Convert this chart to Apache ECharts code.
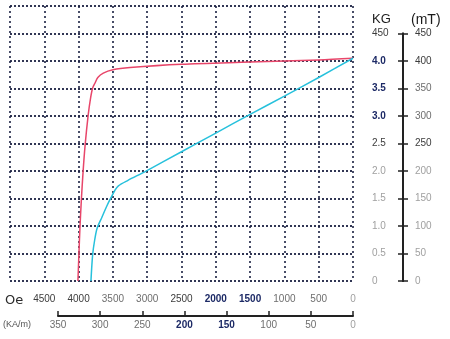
<!DOCTYPE html>
<html>
<head>
<meta charset="utf-8">
<script src="https://cdn.jsdelivr.net/npm/echarts@6/dist/echarts.min.js"></script>
<style>
  html, body { margin: 0; padding: 0; background: #fff; }
  #chart { width: 450px; height: 339px; }
</style>
</head>
<body>
<div id="chart"></div>
<script>
// Demagnetization curves of a magnet: field H (Oe, reversed) against induction (mT).

// Tick values of the three scales
const oeTicks  = [0, 500, 1000, 1500, 2000, 2500, 3000, 3500, 4000, 4500];
const kamTicks = [0, 50, 100, 150, 200, 250, 300, 350];
const mtTicks  = [0, 50, 100, 150, 200, 250, 300, 350, 400, 450];
const kgLabels = ['0', '0.5', '1.0', '1.5', '2.0', '2.5', '3.0', '3.5', '4.0', '450'];

// Upper (red) curve: H in Oe, induction in mT
const redH = [0, 500, 1500, 2500, 3250, 3500, 3640, 3720, 3760, 3795, 3825, 3860, 3905, 3935, 3960, 3980, 3995, 4010];
const redB = [405, 402, 398, 394, 388, 384, 378, 370, 360, 351, 333, 302, 247, 198, 147, 98, 50, 0];

// Lower (cyan) curve: H in Oe, induction in mT
const cyanH = [0, 500, 1000, 1500, 2000, 2500, 3030, 3280, 3420, 3470, 3530, 3590, 3660, 3730, 3765, 3795, 3820];
const cyanB = [405, 370, 336, 303, 269, 235, 199, 183, 173, 165, 151, 136, 116, 96, 75, 48, 0];

// Label tones (scanned print look)
const toneOe  = {4500: 'd', 4000: 'd', 3500: 'g', 3000: 'g', 2500: 'd', 2000: 'n', 1500: 'n', 1000: 'g', 500: 'g', 0: 'l'};
const toneKam = {350: 'g', 300: 'g', 250: 'g', 200: 'n', 150: 'n', 100: 'g', 50: 'g', 0: 'l'};
const toneKg  = {450: 'd', 400: 'n', 350: 'n', 300: 'n', 250: 'd', 200: 'l', 150: 'l', 100: 'l', 50: 'l', 0: 'l'};
const toneMt  = {450: 'd', 400: 'd', 350: 'g', 300: 'g', 250: 'd', 200: 'l', 150: 'l', 100: 'l', 50: 'l', 0: 'l'};

const FONT = '"Liberation Sans", Arial, sans-serif';
function richSet(size) {
  return {
    d: { color: '#3c3c3c', fontSize: size, fontFamily: FONT },
    n: { color: '#1d2a66', fontSize: size, fontFamily: FONT, fontWeight: 'bold' },
    g: { color: '#6e6e6e', fontSize: size, fontFamily: FONT },
    l: { color: '#a0a0a0', fontSize: size, fontFamily: FONT }
  };
}

const GRID_COLOR = '#1b2142';
const zip = (xs, ys) => xs.map((x, i) => [x, ys[i]]);

const chart = echarts.init(document.getElementById('chart'), null, { renderer: 'canvas' });

chart.setOption({
  animation: false,
  backgroundColor: '#ffffff',
  grid: [
    { left: 10, right: 97, top: 6, bottom: 58 },          // plot area
    { left: 58, right: 97, top: 306, height: 10 },        // kA/m scale
    { left: 403, right: 47, top: 33.5, bottom: 58 }       // KG / mT scale
  ],
  xAxis: [
    {
      gridIndex: 0, type: 'value', min: 0, max: 5000, interval: 500, inverse: true,
      axisLine: { show: false }, axisTick: { show: false },
      axisLabel: {
        margin: 13,
        formatter: v => oeTicks.includes(v) ? '{' + toneOe[v] + '|' + v + '}' : '',
        rich: richSet(10)
      },
      splitLine: { show: true, lineStyle: { color: GRID_COLOR, width: 1.6, type: [2, 3] } }
    },
    {
      gridIndex: 1, type: 'value', min: 0, max: 350, interval: 50, inverse: true, position: 'bottom',
      axisLine: { show: true, lineStyle: { color: '#222', width: 2 } },
      axisTick: { show: true, inside: true, length: 5, lineStyle: { color: '#222', width: 1.5 } },
      axisLabel: {
        margin: 4,
        formatter: v => kamTicks.includes(v) ? '{' + toneKam[v] + '|' + v + '}' : '',
        rich: richSet(10)
      },
      splitLine: { show: false }
    },
    {
      gridIndex: 2, type: 'value', min: 0, max: 1, show: false
    }
  ],
  yAxis: [
    {
      gridIndex: 0, type: 'value', min: 0, max: 500, interval: 50,
      axisLine: { show: false }, axisTick: { show: false }, axisLabel: { show: false },
      splitLine: { show: true, lineStyle: { color: GRID_COLOR, width: 1.8, type: [2, 2] } }
    },
    {
      gridIndex: 1, type: 'value', min: 0, max: 1, show: false
    },
    {
      gridIndex: 2, type: 'value', min: 0, max: 450, interval: 50, position: 'left',
      axisLine: { show: true, lineStyle: { color: '#222', width: 2 } },
      axisTick: { show: true, length: 5, lineStyle: { color: '#222', width: 1.5 } },
      axisLabel: {
        margin: 31, align: 'left',
        formatter: v => '{' + toneKg[v] + '|' + kgLabels[mtTicks.indexOf(v)] + '}',
        rich: richSet(10)
      },
      splitLine: { show: false }
    },
    {
      gridIndex: 2, type: 'value', min: 0, max: 450, interval: 50, position: 'right',
      axisLine: { show: true, lineStyle: { color: '#222', width: 2 } },
      axisTick: { show: true, length: 5, lineStyle: { color: '#222', width: 1.5 } },
      axisLabel: {
        margin: 12, align: 'left',
        formatter: v => '{' + toneMt[v] + '|' + v + '}',
        rich: richSet(10)
      },
      splitLine: { show: false }
    }
  ],
  series: [
    {
      type: 'line', xAxisIndex: 0, yAxisIndex: 0,
      data: zip(redH, redB), smooth: 0.3, symbol: 'none',
      lineStyle: { color: '#e8466a', width: 1.5 }
    },
    {
      type: 'line', xAxisIndex: 0, yAxisIndex: 0,
      data: zip(cyanH, cyanB), smooth: 0.3, symbol: 'none',
      lineStyle: { color: '#27c1dc', width: 1.5 }
    }
  ],
  graphic: [
    { type: 'text', left: 372, top: 13, style: { text: 'KG', font: '13px ' + FONT, fill: '#1a1a1a' } },
    { type: 'text', left: 411, top: 13, style: { text: '(mT)', font: '14px ' + FONT, fill: '#1a1a1a' } },
    { type: 'text', left: 5, top: 294, style: { text: 'Oe', font: '13px "DejaVu Sans", sans-serif', fill: '#2a2a2a' } },
    { type: 'text', left: 3, top: 320, style: { text: '(KA/m)', font: '9px ' + FONT, fill: '#555' } }
  ]
});
</script>
</body>
</html>
